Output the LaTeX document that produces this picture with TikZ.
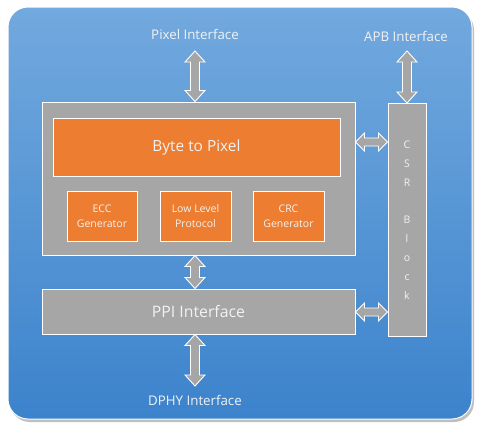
\documentclass[tikz,border=0pt]{standalone}
\usepackage{fontspec}
\setmainfont{Open Sans}
\usetikzlibrary{calc}
\definecolor{bgtop}{RGB}{114,169,222}
\definecolor{bgbot}{RGB}{60,131,204}
\definecolor{boxgray}{RGB}{166,166,166}
\definecolor{boxorange}{RGB}{237,125,49}
\definecolor{txtwhite}{RGB}{242,242,242}
\tikzset{
  graybox/.style={draw=white, line width=1pt, fill=boxgray, inner sep=0pt, text=txtwhite},
  orangebox/.style={draw=white, line width=0.8pt, fill=boxorange, inner sep=0pt, text=txtwhite},
  smallbox/.style={orangebox, minimum height=50pt, align=center, font=\fontsize{10.5}{14.5}\selectfont},
  lbl/.style={text=txtwhite, inner sep=0pt, font=\fontsize{13.3}{16}\selectfont},
  barrow/.style={fill=boxgray, draw=white, line width=0.9pt, line join=miter}
}
\newcommand\varr[2]{\filldraw[barrow] let \p1=(#1), \p2=(#2) in
  (\x1,\y1) -- (\x1+10pt,\y1-11pt) -- (\x1+4.5pt,\y1-11pt) -- (\x1+4.5pt,\y2+11pt) -- (\x1+10pt,\y2+11pt) -- (\x1,\y2)
  -- (\x1-10pt,\y2+11pt) -- (\x1-4.5pt,\y2+11pt) -- (\x1-4.5pt,\y1-11pt) -- (\x1-10pt,\y1-11pt) -- cycle;}
\newcommand\harr[2]{\filldraw[barrow] let \p1=(#1), \p2=(#2) in
  (\x1,\y1) -- (\x1+9pt,\y1+9pt) -- (\x1+9pt,\y1+4pt) -- (\x2-9pt,\y1+4pt) -- (\x2-9pt,\y1+9pt) -- (\x2,\y1)
  -- (\x2-9pt,\y1-9pt) -- (\x2-9pt,\y1-4pt) -- (\x1+9pt,\y1-4pt) -- (\x1+9pt,\y1-9pt) -- cycle;}
\begin{document}
\begin{tikzpicture}[x=1pt,y=-1pt]
\useasboundingbox (0,0) rectangle (480,426);
\fill[white] (0,0) rectangle (480,426);
% shadow and background
\fill[black!25, rounded corners=20pt] (10,10) rectangle (474,422);
\shade[top color=bgtop, bottom color=bgbot, rounded corners=20pt, draw=white, line width=1pt] (8,7) rectangle (472,419);
% boxes
\node[graybox, minimum width=313pt, minimum height=153pt] (main) at (198.5,178.5) {};
\node[orangebox, minimum width=287pt, minimum height=58pt, font=\fontsize{15.4}{18}\selectfont] (b2p) at (196.5,147) {Byte to Pixel};
\node[smallbox, minimum width=70pt] (ecc) at (102,216) {ECC\\Generator};
\node[smallbox, minimum width=71pt] (llp) at (195.5,216) {Low Level\\Protocol};
\node[smallbox, minimum width=71pt] (crc) at (288.5,216) {CRC\\Generator};
\node[graybox, minimum width=38pt, minimum height=233pt, align=center, font=\fontsize{10.5}{18.8}\selectfont] (csr) at (407,220) {C\\S\\R\\[0pt]\strut\\B\\l\\o\\c\\k};
\node[graybox, minimum width=313pt, minimum height=45pt, font=\fontsize{15.8}{19}\selectfont] (ppi) at (198.5,311.5) {PPI Interface};
% labels
\node[lbl] (pixl) at (195,34) {Pixel Interface};
\node[lbl] (apbl) at (406,36) {APB Interface};
\node[lbl] (dphyl) at (195,400) {DPHY Interface};
% arrow end coordinates
\coordinate (pxa) at (195,51);
\coordinate (apa) at (407,51);
\coordinate (dpa) at (195,386);
\coordinate (h1) at (370,142);
\coordinate (h2) at (370,312);
% arrows
\varr{pxa}{main.north -| pxa}
\varr{apa}{csr.north}
\varr{main.south -| pxa}{ppi.north -| pxa}
\varr{ppi.south -| pxa}{dpa}
\harr{main.east |- h1}{csr.west |- h1}
\harr{ppi.east |- h2}{csr.west |- h2}
\end{tikzpicture}
\end{document}
